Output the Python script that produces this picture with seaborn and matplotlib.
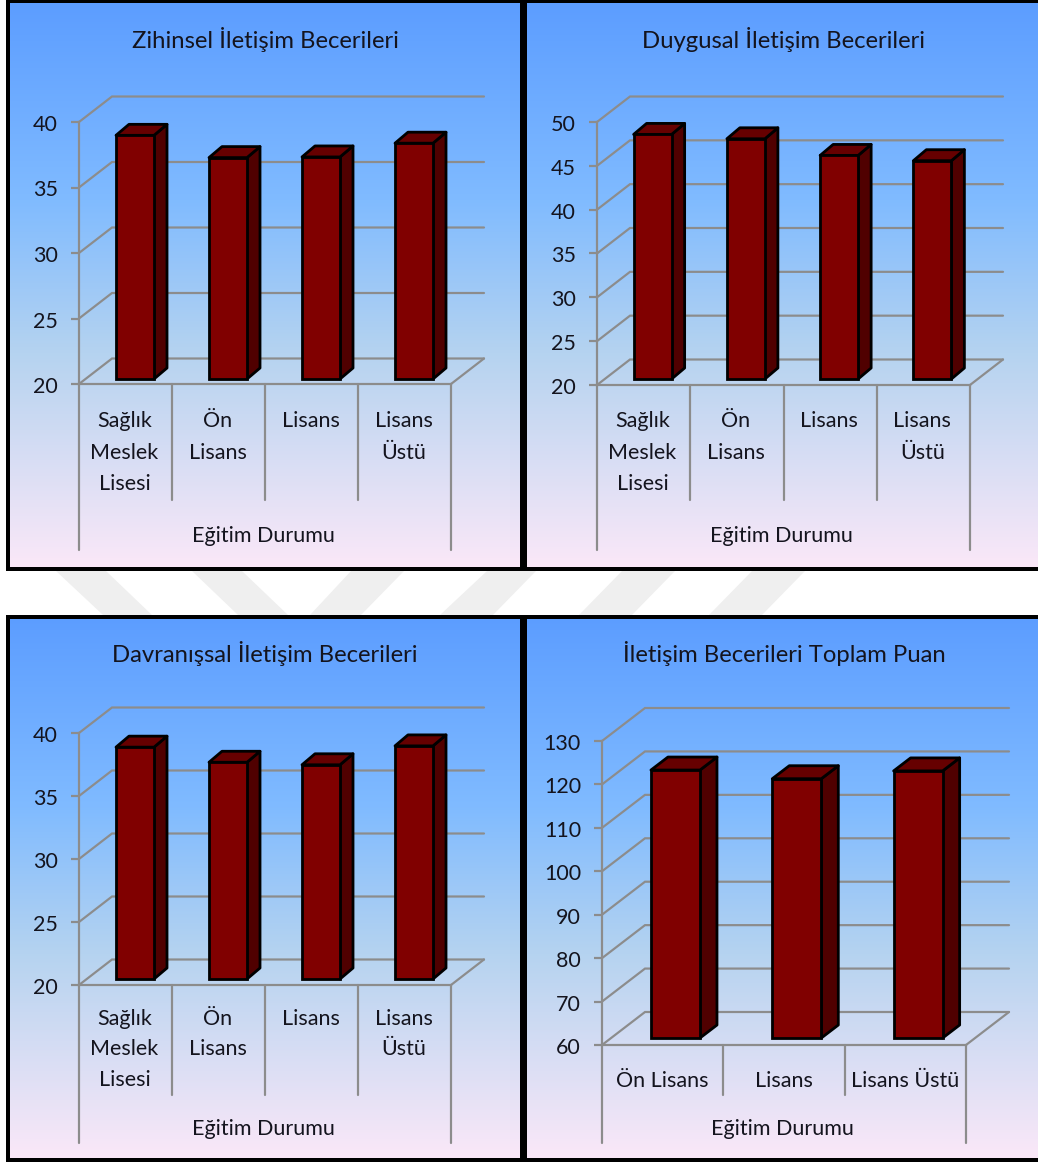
import numpy as np
import pandas as pd
import matplotlib
matplotlib.use("Agg")
import matplotlib.pyplot as plt
from matplotlib.colors import LinearSegmentedColormap
from matplotlib.patches import Polygon
from matplotlib.transforms import ScaledTranslation
import seaborn as sns

# ---- data ----
titles = ["Zihinsel İletişim Becerileri", "Duygusal İletişim Becerileri",
          "Davranışsal İletişim Becerileri", "İletişim Becerileri Toplam Puan"]
cats_four = ["Sağlık\nMeslek\nLisesi", "Ön\nLisans", "Lisans", "Lisans\nÜstü"]
cats_three = ["Ön Lisans", "Lisans", "Lisans Üstü"]
axis_label = "Eğitim Durumu"
zihinsel = [38.6, 36.9, 36.95, 38.0]
duygusal = [47.9, 47.4, 45.5, 44.9]
davranis = [38.4, 37.2, 37.0, 38.5]
toplam = [121.7, 119.7, 121.5]
ticks_a = [20, 25, 30, 35, 40]
ticks_b = [20, 25, 30, 35, 40, 45, 50]
ticks_d = [60, 70, 80, 90, 100, 110, 120, 130]

W, H, DPI = 1038, 1162, 100
FRONT, SIDE, TOP, GRID = "#800000", "#500000", "#660000", "#8c8c8c"
TEXT = "#14141e"
FS = 15.5
FS_TITLE = 17.2

sns.set_theme(style="white")
plt.rcParams["font.family"] = ["Lato", "DejaVu Sans"]
fig = plt.figure(figsize=(W / DPI, H / DPI), dpi=DPI, facecolor="white")


def rect(l, t, r, b):
    return [l / W, 1 - b / H, (r - l) / W, (b - t) / H]


def px_shift(dx, dy):
    return ScaledTranslation(dx / DPI, dy / DPI, fig.dpi_scale_trans)


# faint watermark behind the panels
wm = fig.add_axes([0, 0, 1, 1], zorder=-1)
wm.set_xlim(0, W); wm.set_ylim(H, 0); wm.axis("off")
for top_l, top_r, bot_l, bot_r in [(56, 106, 103, 152), (192, 242, 238, 288),
                                   (351, 404, 310, 361), (487, 536, 440, 493),
                                   (622, 675, 579, 632), (752, 805, 709, 762)]:
    wm.add_patch(Polygon([(top_l, 571), (top_r, 571), (bot_r, 615), (bot_l, 615)],
                         fc="#efefef", ec="none"))

grad = LinearSegmentedColormap.from_list(
    "bg", [(0, "#5c9dff"), (0.35, "#80bbff"), (0.62, "#b5d3f0"), (1, "#fbe8f8")])


def panel(frame, front, depth, bar_shift, bar_depth, bar_w, title, cats, vals, ticks,
          title_y, sep_y, end_y, xlabel_y, pad_y, lines, label_dx):
    # gradient background and black frame
    bg = fig.add_axes(rect(*frame))
    bg.imshow(np.linspace(0, 1, 256)[:, None], aspect="auto", cmap=grad, vmin=0, vmax=1)
    bg.set_xticks([]); bg.set_yticks([])
    for s in bg.spines.values():
        s.set_color("black"); s.set_linewidth(4 * 72 / DPI); s.set_visible(True)

    l, t, r, b = front
    ax = fig.add_axes(rect(l, t, r, b))
    ax.patch.set_alpha(0)
    df = pd.DataFrame({"c": cats, "v": vals})
    lw = 2.2 * 72 / DPI
    blw = 2.8 * 72 / DPI
    sns.barplot(data=df, x="c", y="v", ax=ax, color=FRONT, saturation=1,
                width=bar_w / ((r - l) / len(cats)), edgecolor="black",
                linewidth=blw, zorder=3)
    ymin, ymax = ticks[0], ticks[-1]
    ax.set_xlim(-0.5, len(cats) - 0.5)
    ax.set_ylim(ymin, ymax)
    sx = (r - l) / len(cats)       # px per category
    sy = (b - t) / (ymax - ymin)   # px per value
    Dx, Dy = depth[0] / sx, depth[1] / sy
    n = len(cats)
    # back wall and side wall
    for v in ticks:
        ax.plot([-0.5, -0.5 + Dx, n - 0.5 + Dx], [v, v + Dy, v + Dy], color=GRID, lw=lw,
                clip_on=False, zorder=1, solid_joinstyle="miter")
    ax.plot([n - 0.5, n - 0.5 + Dx], [ymin, ymin + Dy], color=GRID, lw=lw, clip_on=False, zorder=1)

    # separators under the axis
    y_of = lambda px: ymin + (b - px) / sy
    for i in range(n + 1):
        stop = end_y if i in (0, n) else sep_y
        ax.plot([i - 0.5, i - 0.5], [ymin, y_of(stop)], color=GRID, lw=lw, clip_on=False, zorder=1)

    # extruded bars
    shx, shy = bar_shift[0] / sx, bar_shift[1] / sy
    bx, by = bar_depth[0] / sx, bar_depth[1] / sy
    for p, v in zip(list(ax.patches), vals):
        p.set_x(p.get_x() + shx)
        p.set_y(ymin + shy)
        p.set_height(v - ymin)
        p.set_clip_on(False)
        x0, x1 = p.get_x(), p.get_x() + p.get_width()
        y0, y1 = ymin + shy, v + shy
        ax.add_patch(Polygon([(x1, y0), (x1 + bx, y0 + by), (x1 + bx, y1 + by), (x1, y1)],
                             fc=SIDE, ec="black", lw=blw, clip_on=False, zorder=2.5, joinstyle="round"))
        ax.add_patch(Polygon([(x0, y1), (x0 + bx, y1 + by), (x1 + bx, y1 + by), (x1, y1)],
                             fc=TOP, ec="black", lw=blw, clip_on=False, zorder=2.5, joinstyle="round"))

    ax.set_yticks(ticks)
    ax.set_xticks(range(n))
    ax.set_xticklabels(cats, fontsize=FS, color=TEXT, linespacing=lines)
    ax.tick_params(axis="y", length=8 * 72 / DPI, width=lw, color=GRID, labelsize=FS,
                   labelcolor=TEXT, pad=13 * 72 / DPI, left=True)
    ax.tick_params(axis="x", length=0, pad=(pad_y - b) * 72 / DPI)
    for lab in ax.get_xticklabels():
        lab.set_transform(lab.get_transform() + px_shift(label_dx, 0))
    for lab in ax.get_yticklabels():
        lab.set_transform(lab.get_transform() + px_shift(0, -1))
    for name in ("top", "right"):
        ax.spines[name].set_visible(False)
    for name in ("left", "bottom"):
        ax.spines[name].set_color(GRID); ax.spines[name].set_linewidth(lw)
    ax.set_ylabel("")
    ax.set_xlabel(axis_label, fontsize=FS, color=TEXT, va="center")
    ax.xaxis.set_label_coords(0.5 - 1.8 / (r - l), (b - xlabel_y) / (b - t))
    ax.set_title(title, fontsize=FS_TITLE, color=TEXT, y=(b - title_y) / (b - t), va="center", pad=0)


panel((8, 1, 522, 569), (79, 122, 451, 384), (33, 25.5), (9.5, 5), (13, 11), 38,
      titles[0], cats_four, zihinsel, ticks_a, 40, 500, 550, 536, 411, 1.72, -1)
panel((525, 1, 1042, 569), (597, 122, 970, 385), (33, 25.5), (9, 6), (13, 11), 38,
      titles[1], cats_four, duygusal, ticks_b, 40, 500, 550, 536, 411, 1.72, -1)
panel((8, 617, 522, 1160), (79, 733, 451, 985), (33, 25.5), (9.5, 6), (13, 11), 38,
      titles[2], cats_four, davranis, ticks_a, 654, 1095, 1143, 1129, 1009, 1.65, -1)
panel((525, 617, 1042, 1160), (602, 741, 966, 1045), (43, 33), (12.8, 7), (17, 13), 49,
      titles[3], cats_three, toplam, ticks_d, 654, 1095, 1143, 1129, 1071, 1.2, 0)

fig.savefig("out.png", dpi=DPI)
